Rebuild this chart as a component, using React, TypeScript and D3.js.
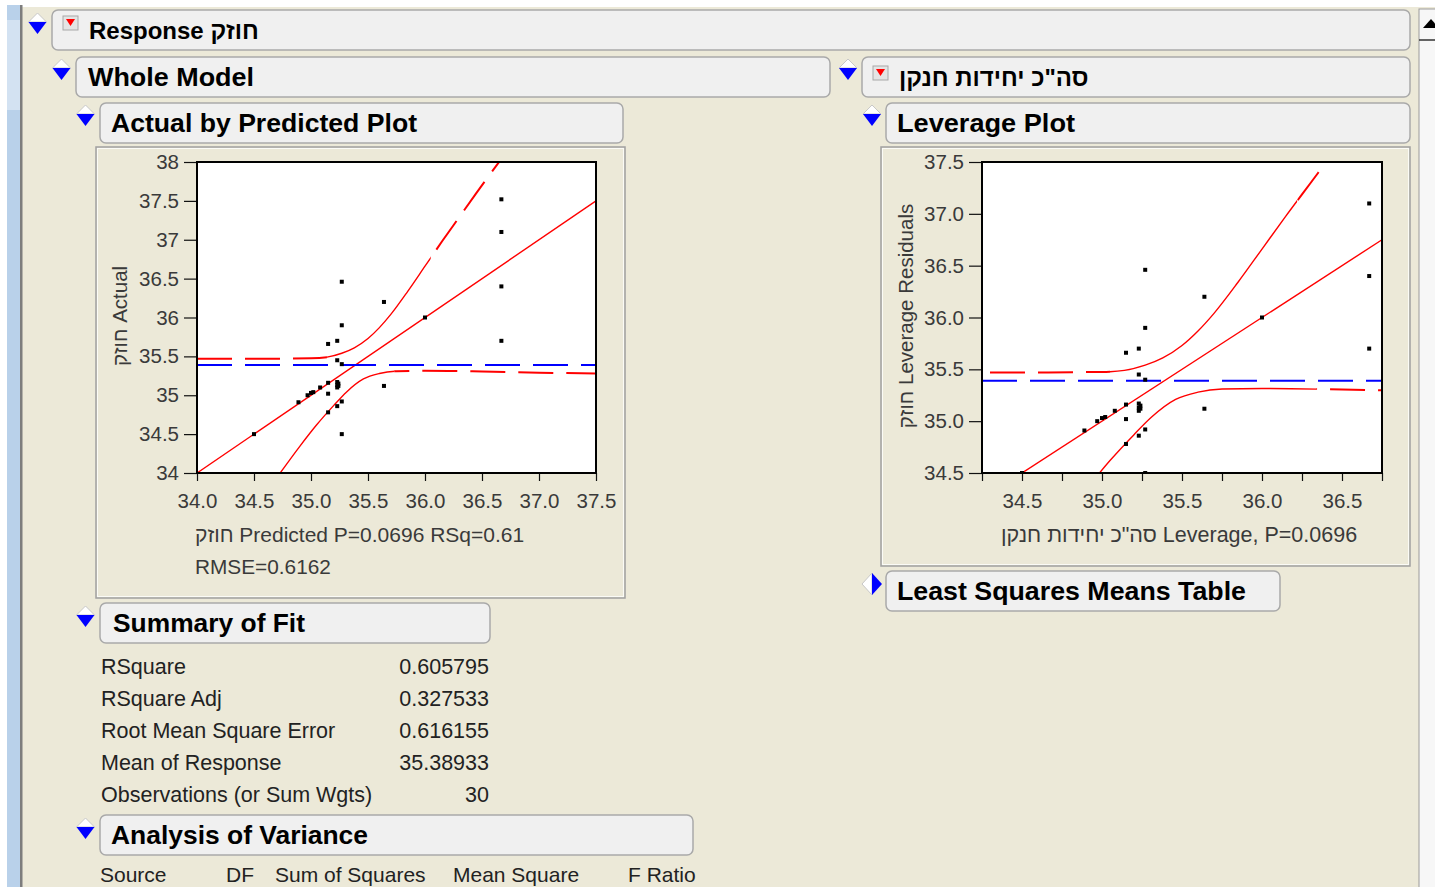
import React, { useEffect, useRef } from 'react';
import * as d3 from 'd3';

// observations: predicted value (also the leverage x) and actual value (leverage residual)
const predicted = [36.67, 36.67, 36.67, 36.67, 35.64, 35.64, 36.0, 35.27, 35.27, 35.15, 35.23, 35.23, 35.27, 35.15, 35.15, 35.23, 35.27, 35.27, 34.5, 34.89, 34.97, 35.0, 35.02, 35.08, 35.15, 35.23, 35.23, 35.24, 35.23, 35.24];
const actual = [37.52, 37.1, 36.4, 35.7, 36.2, 35.12, 36.0, 36.46, 35.9, 35.66, 35.7, 35.45, 35.4, 35.02, 34.78, 34.86, 34.92, 34.5, 34.5, 34.91, 35.0, 35.03, 35.04, 35.1, 35.16, 35.1, 35.13, 35.15, 35.17, 35.12];

const meanResponse = 35.38933;

// fitted line and confidence curves
const fitX = [34.0, 37.5];
const fitY = [34.0, 37.5];
const upperX = [34.0, 34.5, 35.0, 35.14, 35.27, 35.38, 35.5, 35.6, 35.7, 35.85, 36.0, 36.15, 36.3, 36.45, 36.7];
const upperY = [35.47, 35.47, 35.475, 35.49, 35.54, 35.61, 35.73, 35.87, 36.04, 36.34, 36.66, 36.98, 37.29, 37.6, 38.1];
const lowerX = [34.7, 34.9, 35.05, 35.2, 35.31, 35.46, 35.6, 35.75, 36.0, 36.5, 37.0, 37.5];
const lowerY = [33.94, 34.34, 34.62, 34.87, 35.04, 35.21, 35.28, 35.31, 35.315, 35.305, 35.29, 35.28];

// tick labels
const apXTicks = [34.0, 34.5, 35.0, 35.5, 36.0, 36.5, 37.0, 37.5];
const apYTicks = [34, 34.5, 35, 35.5, 36, 36.5, 37, 37.5, 38];
const levXTicks = [34.5, 35.0, 35.5, 36.0, 36.5];
const levXMinor = [34.25, 34.75, 35.25, 35.75, 36.25, 36.75];
const levYTicks = [34.5, 35.0, 35.5, 36.0, 36.5, 37.0, 37.5];

// summary of fit table
const fitLabels = ['RSquare', 'RSquare Adj', 'Root Mean Square Error', 'Mean of Response', 'Observations (or Sum Wgts)'];
const fitValues = ['0.605795', '0.327533', '0.616155', '35.38933', '30'];

const anovaHeads = ['Source', 'DF', 'Sum of Squares', 'Mean Square', 'F Ratio'];
const anovaHeadX = [100, 226, 275, 453, 628];

const FONT = '"Liberation Sans", Arial, sans-serif';

interface PlotProps {
  id: string;
  left: number;
  top: number;
  width: number;
  height: number;
  xDomain: [number, number];
  yDomain: [number, number];
  xTicks: number[];
  xMinor?: number[];
  yTicks: number[];
  xFmt: (d: number) => string;
  yFmt: (d: number) => string;
  upperSolid: [number, number];
  lowerSolid: [number, number];
}

const FitPlot: React.FC<PlotProps> = (p) => {
  const ref = useRef<SVGGElement>(null);

  useEffect(() => {
    if (!ref.current) return;
    const g = d3.select(ref.current);
    g.selectAll('*').remove();

    const x = d3.scaleLinear().domain(p.xDomain).range([p.left, p.left + p.width]);
    const y = d3.scaleLinear().domain(p.yDomain).range([p.top + p.height, p.top]);
    const x0 = p.left, x1 = p.left + p.width;

    g.append('rect')
      .attr('x', x0).attr('y', p.top)
      .attr('width', p.width).attr('height', p.height)
      .attr('fill', '#fff');

    const defs = g.append('defs');
    defs.append('clipPath').attr('id', `${p.id}-frame`)
      .append('rect').attr('x', x0).attr('y', p.top).attr('width', p.width).attr('height', p.height);

    // solid part of a curve inside [a, b], dashed outside
    const addRange = (name: string, a: number, b: number) => {
      const cp = defs.append('clipPath').attr('id', `${p.id}-${name}-solid`);
      cp.append('rect').attr('x', x(a)).attr('y', 0).attr('width', x(b) - x(a)).attr('height', 1000);
      const cd = defs.append('clipPath').attr('id', `${p.id}-${name}-dash`);
      cd.append('rect').attr('x', 0).attr('y', 0).attr('width', x(a)).attr('height', 1000);
      cd.append('rect').attr('x', x(b)).attr('y', 0).attr('width', 2000).attr('height', 1000);
    };
    addRange('up', p.upperSolid[0], p.upperSolid[1]);
    addRange('lo', p.lowerSolid[0], p.lowerSolid[1]);

    const inner = g.append('g').attr('clip-path', `url(#${p.id}-frame)`);

    const line = d3.line<[number, number]>()
      .x(d => x(d[0]))
      .y(d => y(d[1]))
      .curve(d3.curveMonotoneX);

    const fitPts = fitX.map((v, i) => [v, fitY[i]] as [number, number]);
    inner.append('path')
      .attr('d', line(fitPts))
      .attr('fill', 'none').attr('stroke', '#ff0000').attr('stroke-width', 1.4);

    const drawCurve = (name: string, xs: number[], ys: number[]) => {
      const pts = xs.map((v, i) => [v, ys[i]] as [number, number]);
      inner.append('g').attr('clip-path', `url(#${p.id}-${name}-solid)`)
        .append('path').attr('d', line(pts))
        .attr('fill', 'none').attr('stroke', '#ff0000').attr('stroke-width', 1.4);
      inner.append('g').attr('clip-path', `url(#${p.id}-${name}-dash)`)
        .append('path').attr('d', line(pts))
        .attr('fill', 'none').attr('stroke', '#ff0000').attr('stroke-width', 2)
        .attr('stroke-dasharray', '35,13');
    };
    drawCurve('up', upperX, upperY);
    drawCurve('lo', lowerX, lowerY);

    // mean of response
    inner.append('line')
      .attr('x1', x0).attr('x2', x1)
      .attr('y1', y(meanResponse)).attr('y2', y(meanResponse))
      .attr('stroke', '#0000ff').attr('stroke-width', 2)
      .attr('stroke-dasharray', '35,13');

    inner.selectAll('rect.pt')
      .data(predicted.map((v, i) => [v, actual[i]]))
      .enter().append('rect')
      .attr('class', 'pt')
      .attr('x', d => x(d[0]) - 2).attr('y', d => y(d[1]) - 2)
      .attr('width', 4).attr('height', 4)
      .attr('fill', '#000');

    // axes
    const styleAxis = (a: d3.Selection<SVGGElement, unknown, null, undefined>) => {
      a.select('.domain').remove();
      a.attr('font-family', FONT).attr('font-size', 20.5);
      a.selectAll('line').attr('stroke', '#111').attr('stroke-width', 1.2);
      a.selectAll('text').attr('fill', '#3a3a3a');
    };

    const ay = g.append('g')
      .attr('transform', `translate(${x0},0)`)
      .call(d3.axisLeft(y).tickValues(p.yTicks).tickSize(13).tickPadding(5).tickFormat(d => p.yFmt(+d)));
    styleAxis(ay);

    const ax = g.append('g')
      .attr('transform', `translate(0,${p.top + p.height})`)
      .call(d3.axisBottom(x).tickValues(p.xTicks).tickSize(8).tickPadding(12).tickFormat(d => p.xFmt(+d)));
    styleAxis(ax);

    if (p.xMinor) {
      const am = g.append('g')
        .attr('transform', `translate(0,${p.top + p.height})`)
        .call(d3.axisBottom(x).tickValues(p.xMinor).tickSize(8).tickFormat(() => ''));
      styleAxis(am);
    }

    g.append('rect')
      .attr('x', x0).attr('y', p.top)
      .attr('width', p.width).attr('height', p.height)
      .attr('fill', 'none').attr('stroke', '#000').attr('stroke-width', 2);
  }, [p]);

  return <g ref={ref} />;
};

const Disclose: React.FC<{ x: number; y: number; right?: boolean }> = ({ x, y, right }) => {
  if (right) {
    return (
      <g>
        <polygon points={`${x - 10},${y} ${x},${y - 11} ${x},${y + 11}`} fill="#fff" stroke="#c8c8c8" strokeWidth={1} />
        <polygon points={`${x},${y - 11} ${x + 10},${y} ${x},${y + 11}`} fill="#0000ff" />
      </g>
    );
  }
  return (
    <g>
      <polygon points={`${x - 9},${y} ${x},${y - 9} ${x + 9},${y}`} fill="#fff" stroke="#c8c8c8" strokeWidth={1} />
      <polygon points={`${x - 9},${y} ${x + 9},${y} ${x},${y + 12}`} fill="#0000ff" />
    </g>
  );
};

const RedMenu: React.FC<{ x: number; y: number }> = ({ x, y }) => (
  <g>
    <rect x={x} y={y} width={15} height={14} fill="#e4e4e4" stroke="#a8a8a8" />
    <polygon points={`${x + 3},${y + 3} ${x + 12},${y + 3} ${x + 7.5},${y + 10}`} fill="#ff0000" />
  </g>
);

const Header: React.FC<{ x: number; y: number; w: number; text: string; tx: number; tw?: number; size?: number }> =
  ({ x, y, w, text, tx, tw, size = 25 }) => (
    <g>
      <rect x={x} y={y} width={w} height={40} rx={6} fill="#f0f0f0" stroke="#a9a9a9" strokeWidth={1.5} />
      <text x={tx} y={y + 29} fontFamily={FONT} fontWeight="bold" fontSize={size} fill="#000"
        textLength={tw} lengthAdjust={tw ? 'spacingAndGlyphs' : undefined}>{text}</text>
    </g>
  );

const PanelBox: React.FC<{ x: number; y: number; w: number; h: number }> = ({ x, y, w, h }) => (
  <g>
    <rect x={x} y={y} width={w} height={h} fill="#ece9d8" stroke="#a0a0a0" strokeWidth={1.5} />
    <rect x={x + 1.5} y={y + 1.5} width={w - 3} height={h - 3} fill="none" stroke="#fbfbf6" strokeWidth={1} />
  </g>
);

const fmt1 = d3.format('.1f');
const fmtShort = (d: number) => (Number.isInteger(d) ? String(d) : fmt1(d));

const apProps: PlotProps = {
  id: 'ap', left: 197, top: 162, width: 399, height: 311,
  xDomain: [34.0, 37.5], yDomain: [34, 38],
  xTicks: apXTicks, yTicks: apYTicks,
  xFmt: fmt1, yFmt: fmtShort,
  upperSolid: [35.14, 36.05], lowerSolid: [34.0, 35.73],
};

const levProps: PlotProps = {
  id: 'lev', left: 982, top: 162, width: 400, height: 311,
  xDomain: [34.25, 36.75], yDomain: [34.5, 37.5],
  xTicks: levXTicks, xMinor: levXMinor, yTicks: levYTicks,
  xFmt: fmt1, yFmt: fmt1,
  upperSolid: [35.05, 36.22], lowerSolid: [34.0, 36.34],
};

const App: React.FC = () => {
  return (
    <svg width={1435} height={887} style={{ position: 'absolute', left: 0, top: 0, display: 'block' }}>
      <rect x={0} y={0} width={1435} height={887} fill="#ece9d8" />
      <rect x={0} y={0} width={1435} height={7} fill="#fff" />
      {/* left window strip */}
      <rect x={0} y={0} width={7} height={887} fill="#fff" />
      <rect x={7} y={5} width={13} height={882} fill="#b9d1ea" />
      <rect x={7} y={20} width={13} height={90} fill="#d3e2f2" />
      <rect x={20} y={5} width={2.5} height={882} fill="#7d7d7d" />
      {/* scrollbar */}
      <rect x={1419} y={9} width={20} height={880} fill="#f7f7f7" stroke="#9c9c9c" />
      <line x1={1419} x2={1435} y1={40} y2={40} stroke="#333" strokeWidth={1.5} />
      <polygon points="1423,28 1431,19 1439,28" fill="#000" />

      <Disclose x={37.5} y={22} />
      <Header x={52} y={10} w={1358} text="Response חוזק" tx={89} size={24} />
      <RedMenu x={63} y={16} />

      <Disclose x={61.5} y={68} />
      <Header x={76} y={57} w={754} text="Whole Model" tx={88} tw={166} />

      <Disclose x={85.5} y={114} />
      <Header x={100} y={103} w={523} text="Actual by Predicted Plot" tx={111} tw={306} />

      <PanelBox x={96} y={147} w={529} h={451} />
      <FitPlot {...apProps} />
      <text transform="translate(127,316) rotate(-90)" textAnchor="middle" fontFamily={FONT} fontSize={20.5} fill="#3a3a3a">חוזק Actual</text>
      <text x={195} y={542} fontFamily={FONT} fontSize={21} fill="#3a3a3a">חוזק Predicted P=0.0696 RSq=0.61</text>
      <text x={195} y={574} fontFamily={FONT} fontSize={20.8} fill="#3a3a3a">RMSE=0.6162</text>

      <Disclose x={848} y={68} />
      <Header x={862} y={57} w={548} text={'סה"כ יחידות חנקן'} tx={899} size={24} />
      <RedMenu x={873} y={66} />

      <Disclose x={872} y={114} />
      <Header x={886} y={103} w={524} text="Leverage Plot" tx={897} tw={178} />

      <PanelBox x={881} y={147} w={529} h={419} />
      <FitPlot {...levProps} />
      <text transform="translate(913,316) rotate(-90)" textAnchor="middle" fontFamily={FONT} fontSize={20.5} fill="#3a3a3a">חוזק Leverage Residuals</text>
      <text x={1179} y={542} textAnchor="middle" fontFamily={FONT} fontSize={21.5} fill="#3a3a3a">{'סה"כ יחידות חנקן Leverage, P=0.0696'}</text>

      <Disclose x={872} y={584} right />
      <Header x={886} y={571} w={394} text="Least Squares Means Table" tx={897} tw={349} />

      <Disclose x={85.5} y={615} />
      <Header x={100} y={603} w={390} text="Summary of Fit" tx={113} tw={192} />
      {fitLabels.map((t, i) => (
        <g key={t}>
          <text x={101} y={674 + i * 32} fontFamily={FONT} fontSize={21.5} fill="#222">{t}</text>
          <text x={489} y={674 + i * 32} textAnchor="end" fontFamily={FONT} fontSize={21.5} fill="#222">{fitValues[i]}</text>
        </g>
      ))}

      <Disclose x={85.5} y={827} />
      <Header x={100} y={815} w={593} text="Analysis of Variance" tx={111} tw={257} />
      {anovaHeads.map((t, i) => (
        <text key={t} x={anovaHeadX[i]} y={882} fontFamily={FONT} fontSize={21} fill="#222">{t}</text>
      ))}
    </svg>
  );
};

export default App;
